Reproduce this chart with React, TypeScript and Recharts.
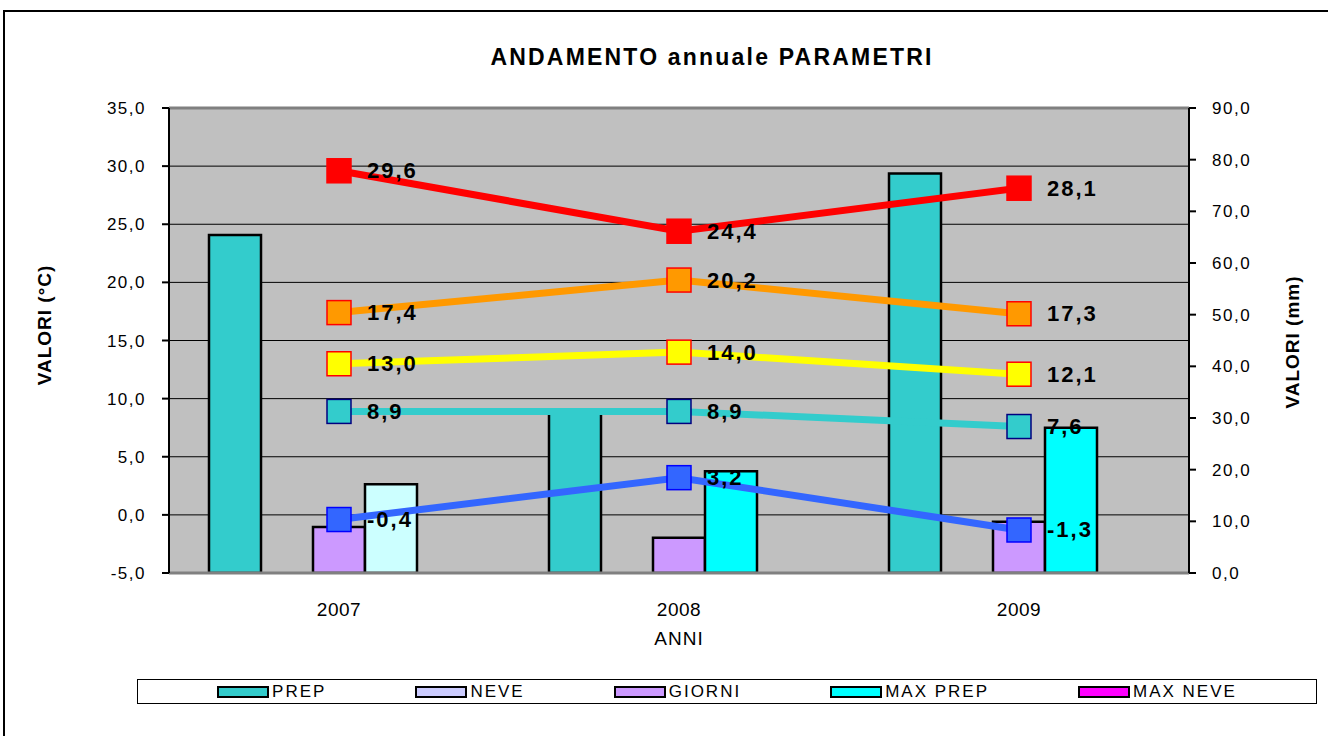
import React from 'react';
import {
  ComposedChart,
  Bar,
  Line,
  Cell,
  XAxis,
  YAxis,
  CartesianGrid,
  ReferenceLine,
  LabelList,
} from 'recharts';

// categories
const years = ['2007', '2008', '2009'];

// bar series (right axis, mm)
const prep = [65.4, 31.2, 77.3];
const neve = [0, 0, 0];
const giorni = [8.9, 6.8, 9.9];
const maxPrep = [17.2, 19.7, 28.1];
const maxNeve = [0, 0, 0];

// line series (left axis, °C)
const tMaxAss = [29.6, 24.4, 28.1];
const tMediaMax = [17.4, 20.2, 17.3];
const tMedia = [13.0, 14.0, 12.1];
const tMediaMin = [8.9, 8.9, 7.6];
const tMinAss = [-0.4, 3.2, -1.3];

// axis ticks
const leftTicks = [-5, 0, 5, 10, 15, 20, 25, 30, 35];
const rightTicks = [0, 10, 20, 30, 40, 50, 60, 70, 80, 90];

const maxPrepColors = ['#CCFFFF', '#00FFFF', '#00FFFF'];

const data = years.map((year, i) => ({
  year,
  prep: prep[i],
  neve: neve[i],
  giorni: giorni[i],
  maxPrep: maxPrep[i],
  maxNeve: maxNeve[i],
  tMaxAss: tMaxAss[i],
  tMediaMax: tMediaMax[i],
  tMedia: tMedia[i],
  tMediaMin: tMediaMin[i],
  tMinAss: tMinAss[i],
}));

const fmt = (v: number) => v.toFixed(1).replace('.', ',');

const FONT = '"Liberation Sans", Arial, sans-serif';

const squareDot = (fill: string, stroke: string) => (props: any) => {
  const { cx, cy, index } = props;
  if (cx == null || cy == null) return <g key={index} />;
  return (
    <rect
      key={index}
      x={cx - 12}
      y={cy - 12}
      width={24}
      height={24}
      fill={fill}
      stroke={stroke}
      strokeWidth={1.5}
    />
  );
};

const valueLabel = (props: any) => {
  const vb = props.viewBox || {};
  const x = props.x ?? vb.x;
  const y = props.y ?? vb.y;
  if (x == null || y == null) return null;
  return (
    <text
      x={x + 28}
      y={y}
      dominantBaseline="central"
      fontFamily={FONT}
      fontSize={22}
      fontWeight="bold"
      letterSpacing={2}
      fill="#000"
    >
      {fmt(Number(props.value))}
    </text>
  );
};

const lines = [
  { key: 'tMaxAss', color: '#FF0000', fill: '#FF0000', border: '#FF0000' },
  { key: 'tMediaMax', color: '#FF9900', fill: '#FF9900', border: '#FF0000' },
  { key: 'tMedia', color: '#FFFF00', fill: '#FFFF00', border: '#FF0000' },
  { key: 'tMediaMin', color: '#33CCCC', fill: '#33CCCC', border: '#000080' },
  { key: 'tMinAss', color: '#3366FF', fill: '#3366FF', border: '#0000FF' },
];

const legendItems = [
  { name: 'PREP', color: '#33CCCC' },
  { name: 'NEVE', color: '#CCCCFF' },
  { name: 'GIORNI', color: '#CC99FF' },
  { name: 'MAX PREP', color: '#00FFFF' },
  { name: 'MAX NEVE', color: '#FF00FF' },
];

const App: React.FC = () => {
  const tickStyle = { fill: '#000', fontSize: 17, letterSpacing: 1.5, fontFamily: FONT };
  return (
    <div
      style={{
        position: 'absolute',
        left: 0,
        top: 0,
        width: 1328,
        height: 736,
        background: '#fff',
        fontFamily: FONT,
        overflow: 'hidden',
      }}
    >
      <div
        style={{
          position: 'absolute',
          left: 3,
          top: 10,
          width: 1340,
          height: 740,
          borderTop: '2px solid #000',
          borderLeft: '2px solid #000',
        }}
      />
      <div
        style={{
          position: 'absolute',
          left: 712,
          top: 44,
          transform: 'translateX(-50%)',
          fontSize: 23,
          fontWeight: 'bold',
          letterSpacing: 2.2,
          whiteSpace: 'nowrap',
        }}
      >
        ANDAMENTO annuale PARAMETRI
      </div>
      <div
        style={{
          position: 'absolute',
          left: 45,
          top: 325,
          transform: 'translate(-50%, -50%) rotate(-90deg)',
          fontSize: 19,
          fontWeight: 'bold',
          letterSpacing: 1,
          whiteSpace: 'nowrap',
        }}
      >
        VALORI (°C)
      </div>
      <div
        style={{
          position: 'absolute',
          left: 1293,
          top: 342,
          transform: 'translate(-50%, -50%) rotate(-90deg)',
          fontSize: 19,
          fontWeight: 'bold',
          letterSpacing: 1,
          whiteSpace: 'nowrap',
        }}
      >
        VALORI (mm)
      </div>
      <div
        style={{
          position: 'absolute',
          left: 679,
          top: 639,
          transform: 'translate(-50%, -50%)',
          fontSize: 19,
          letterSpacing: 1,
        }}
      >
        ANNI
      </div>

      <div style={{ position: 'absolute', left: 0, top: 0 }}>
        <ComposedChart
          width={1328}
          height={736}
          data={data}
          margin={{ top: 108, right: 20, bottom: 103, left: 19 }}
          barCategoryGap={40}
          barGap={0}
        >
          <CartesianGrid
            yAxisId="left"
            vertical={false}
            stroke="#000"
            strokeWidth={1}
            fill="#C0C0C0"
            fillOpacity={1}
          />
          <XAxis
            dataKey="year"
            height={60}
            tickSize={0}
            tickLine={false}
            tickMargin={30}
            axisLine={{ stroke: '#808080', strokeWidth: 3 }}
            tick={{ fill: '#000', fontSize: 19, letterSpacing: 0.5, fontFamily: FONT }}
          />
          <YAxis
            yAxisId="left"
            width={150}
            domain={[-5, 35]}
            ticks={leftTicks}
            tickFormatter={fmt}
            tickSize={7}
            tickMargin={16}
            axisLine={{ stroke: '#000', strokeWidth: 2 }}
            tickLine={{ stroke: '#000', strokeWidth: 2 }}
            tick={tickStyle}
            allowDataOverflow
          />
          <YAxis
            yAxisId="right"
            orientation="right"
            width={119}
            domain={[0, 90]}
            ticks={rightTicks}
            tickFormatter={fmt}
            tickSize={7}
            tickMargin={16}
            axisLine={{ stroke: '#000', strokeWidth: 2 }}
            tickLine={{ stroke: '#000', strokeWidth: 2 }}
            tick={tickStyle}
            allowDataOverflow
          />
          <ReferenceLine yAxisId="left" y={35} stroke="#808080" strokeWidth={3} />

          <Bar yAxisId="right" dataKey="prep" name="PREP" fill="#33CCCC" stroke="#000" strokeWidth={2.5} isAnimationActive={false} />
          <Bar yAxisId="right" dataKey="neve" name="NEVE" fill="#CCCCFF" stroke="#000" strokeWidth={2.5} isAnimationActive={false} />
          <Bar yAxisId="right" dataKey="giorni" name="GIORNI" fill="#CC99FF" stroke="#000" strokeWidth={2.5} isAnimationActive={false} />
          <Bar yAxisId="right" dataKey="maxPrep" name="MAX PREP" fill="#00FFFF" stroke="#000" strokeWidth={2.5} isAnimationActive={false}>
            {data.map((_, i) => (
              <Cell key={i} fill={maxPrepColors[i]} />
            ))}
          </Bar>
          <Bar yAxisId="right" dataKey="maxNeve" name="MAX NEVE" fill="#FF00FF" stroke="#000" strokeWidth={2.5} isAnimationActive={false} />

          {lines.map((l) => (
            <Line
              key={l.key}
              yAxisId="left"
              type="linear"
              dataKey={l.key}
              stroke={l.color}
              strokeWidth={7}
              dot={squareDot(l.fill, l.border)}
              activeDot={false}
              isAnimationActive={false}
            >
              <LabelList dataKey={l.key} content={valueLabel} />
            </Line>
          ))}
        </ComposedChart>
      </div>

      <div
        style={{
          position: 'absolute',
          left: 137,
          top: 679,
          width: 1180,
          height: 25,
          border: '1px solid #000',
          boxSizing: 'border-box',
          display: 'flex',
          alignItems: 'center',
          justifyContent: 'center',
          gap: 89,
          fontSize: 17,
          letterSpacing: 2,
        }}
      >
        {legendItems.map((it) => (
          <div key={it.name} style={{ display: 'flex', alignItems: 'center', gap: 3 }}>
            <div
              style={{
                width: 52,
                height: 12,
                background: it.color,
                border: '2px solid #000',
                boxSizing: 'border-box',
              }}
            />
            <span style={{ lineHeight: '20px' }}>{it.name}</span>
          </div>
        ))}
      </div>
    </div>
  );
};

export default App;
